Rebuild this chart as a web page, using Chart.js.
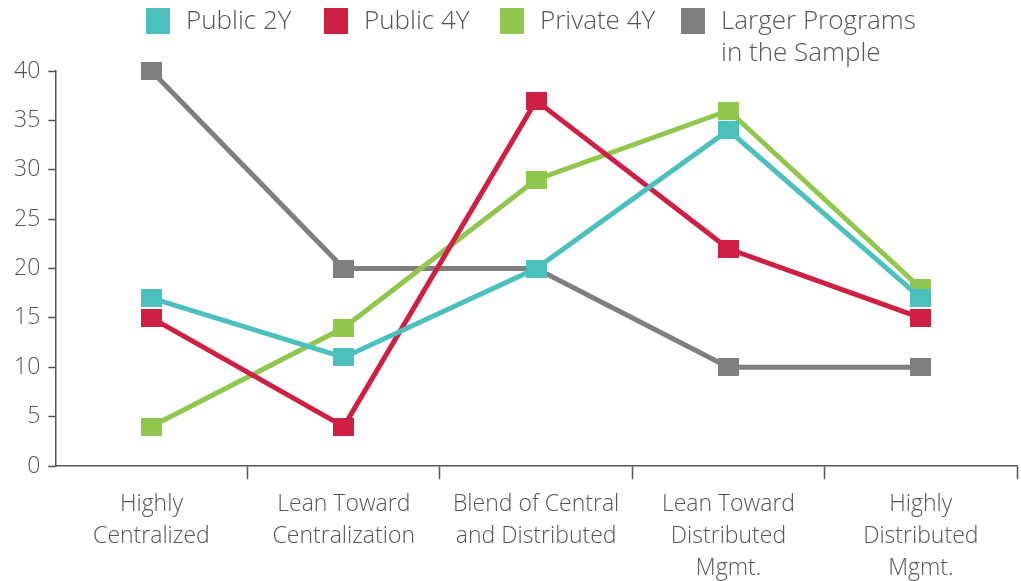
<!DOCTYPE html>
<html>
<head>
<meta charset="utf-8">
<script src="https://cdn.jsdelivr.net/npm/chart.js@4/dist/chart.umd.min.js"></script>
<style>
  html, body { margin: 0; background: #fff; overflow: hidden; }
  #wrap { position: relative; width: 1021px; height: 581px; }
  #chart { display: block; }
  #legend { position: absolute; top: 0; left: 0; width: 1021px; font-family: 'Open Sans', sans-serif; font-weight: 300; font-size: 26px; color: #555; }
  .item { position: absolute; top: 0; display: flex; align-items: flex-start; }
  .box { width: 24px; height: 26px; margin-top: 8px; margin-right: 16px; }
  .lbl { line-height: 32px; margin-top: 3px; }
</style>
</head>
<body>
<div id="wrap">
  <canvas id="chart" width="1021" height="581"></canvas>
  <div id="legend"></div>
</div>
<script>
const categories = [
  ['Highly', 'Centralized'],
  ['Lean Toward', 'Centralization'],
  ['Blend of Central', 'and Distributed'],
  ['Lean Toward', 'Distributed', 'Mgmt.'],
  ['Highly', 'Distributed', 'Mgmt.']
];
const public2Y = [17, 11, 20, 34, 17];
const public4Y = [15, 4, 37, 22, 15];
const private4Y = [4, 14, 29, 36, 18];
const largerPrograms = [40, 20, 20, 10, 10];

const seriesNames = ['Public 2Y', 'Public 4Y', 'Private 4Y', ['Larger Programs', 'in the Sample']];
const colors = ['#4BC0BE', '#CF1F45', '#92C74F', '#7F7F7F'];
const legendX = [146, 324, 500, 681];

function marker(color) {
  const c = document.createElement('canvas');
  c.width = 21; c.height = 18;
  const g = c.getContext('2d');
  g.fillStyle = color;
  g.fillRect(0, 0, 21, 18);
  return c;
}

// html legend (last entry wraps to two lines)
const legend = document.getElementById('legend');
seriesNames.forEach((name, i) => {
  const item = document.createElement('div');
  item.className = 'item';
  item.style.left = legendX[i] + 'px';
  const box = document.createElement('div');
  box.className = 'box';
  box.style.background = colors[i];
  const lbl = document.createElement('div');
  lbl.className = 'lbl';
  lbl.innerHTML = [].concat(name).join('<br>');
  item.appendChild(box);
  item.appendChild(lbl);
  legend.appendChild(item);
});

const allData = [public2Y, public4Y, private4Y, largerPrograms];
const datasets = allData.map((d, i) => ({
  label: [].concat(seriesNames[i]).join(' '),
  data: d,
  borderColor: colors[i],
  backgroundColor: colors[i],
  borderWidth: 5,
  pointStyle: marker(colors[i]),
  pointRadius: 10,
  tension: 0,
  fill: false,
  clip: false
}));

const font = { family: "'Open Sans', sans-serif", size: 23, weight: 300, lineHeight: 1.39 };
const ctx = document.getElementById('chart').getContext('2d');
new Chart(ctx, {
  type: 'line',
  data: { labels: categories, datasets },
  options: {
    responsive: false,
    animation: false,
    layout: { autoPadding: false, padding: { top: 71, left: 6, right: 4, bottom: -12 } },
    plugins: { legend: { display: false }, tooltip: { enabled: false } },
    scales: {
      x: {
        offset: true,
        border: { color: '#555', width: 1.5 },
        grid: {
          offset: true,
          drawOnChartArea: false,
          tickLength: 13,
          tickWidth: 1.5,
          tickColor: c => c.index === 0 ? 'rgba(0,0,0,0)' : '#555'
        },
        ticks: { color: '#555', font, padding: 9, maxRotation: 0 }
      },
      y: {
        min: 0,
        max: 40,
        border: { color: '#555', width: 1.5 },
        grid: { drawOnChartArea: false, tickLength: 7, tickWidth: 1.5, tickColor: '#555' },
        ticks: { stepSize: 5, color: '#555', font: { ...font, lineHeight: 1.2 }, padding: 8 }
      }
    }
  }
});
</script>
</body>
</html>
